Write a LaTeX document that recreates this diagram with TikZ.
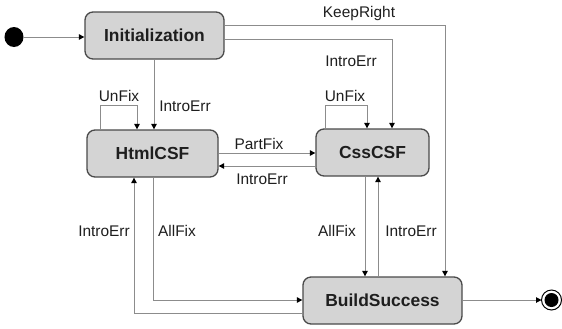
\documentclass[tikz,border=0pt]{standalone}
\usepackage{fontspec}
\setmainfont{Liberation Sans}
\usetikzlibrary{arrows.meta}
\definecolor{boxfill}{HTML}{D4D4D4}
\definecolor{boxline}{HTML}{4A4A4A}
\definecolor{wire}{HTML}{8C8C8C}
\definecolor{ink}{HTML}{1E1E1E}
\tikzset{
  state/.style={draw=boxline, line width=1.3bp, fill=boxfill, rounded corners=8bp,
    inner sep=0pt, text=ink, font=\fontsize{17.5}{20}\selectfont\bfseries},
  arr/.style={draw=wire, line width=1bp,
    -{Triangle[length=5.5bp,width=5.5bp,color=black]}},
  lbl/.style={text=ink, inner sep=0pt, font=\fontsize{15.5}{18}\selectfont}
}
\begin{document}
\begin{tikzpicture}[x=1bp,y=-1bp]
\useasboundingbox (0,0) rectangle (562,328);

% states
\node[state, minimum width=139bp, minimum height=47bp] (init)  at (154.5,35.5) {Initialization};
\node[state, minimum width=131bp, minimum height=47bp] (html)  at (152.5,153.5) {HtmlCSF};
\node[state, minimum width=113bp, minimum height=47bp] (css)   at (372.5,152.5) {CssCSF};
\node[state, minimum width=159bp, minimum height=47bp] (build) at (382.5,300.5) {BuildSuccess};

% pseudo states
\fill[black] (14,37) ellipse [x radius=9.5bp, y radius=10bp];
\coordinate (start) at (23.5,37);
\draw[black, line width=1bp] (551.5,300) circle [radius=10bp];
\fill[black] (551.5,300) circle [radius=7bp];
\coordinate (final) at (541.5,300);

% transitions
\draw[arr] (start) -- (init.west |- start);
\draw[arr] (build.east |- final) -- (final);

\draw[arr] (init.south -| 154,0) -- (html.north -| 154,0);
\node[lbl] (l1) at (185,106) {IntroErr};

\draw[arr] (init.east |- 0,25) -| (build.north -| 445,0);
\node[lbl] (l2) at (359,14) {KeepRight};

\draw[arr] (init.east |- 0,39) -| (css.north -| 392,0);
\node[lbl] (l3) at (351,61) {IntroErr};

\draw[arr] (html.north -| 100,0) |- (137,105) -- (html.north -| 137,0);
\node[lbl] (l4) at (119,96) {UnFix};

\draw[arr] (css.north -| 325,0) |- (367,105) -- (css.north -| 367,0);
\node[lbl] (l5) at (345,96) {UnFix};

\draw[arr] (html.east |- 0,153) -- (css.west |- 0,153);
\node[lbl] (l6) at (259,144) {PartFix};

\draw[arr] (css.west |- 0,166) -- (html.east |- 0,166);
\node[lbl] (l7) at (262,179) {IntroErr};

\draw[arr] (html.south -| 153,0) |- (build.west |- 0,300);
\node[lbl] (l8) at (177,231) {AllFix};

\draw[arr] (build.west |- 0,313) -| (html.south -| 134,0);
\node[lbl] (l9) at (104,231) {IntroErr};

\draw[arr] (css.south -| 365,0) -- (build.north -| 365,0);
\node[lbl] (l10) at (337,231) {AllFix};

\draw[arr] (build.north -| 378,0) -- (css.south -| 378,0);
\node[lbl] (l11) at (411,231) {IntroErr};
\end{tikzpicture}
\end{document}
